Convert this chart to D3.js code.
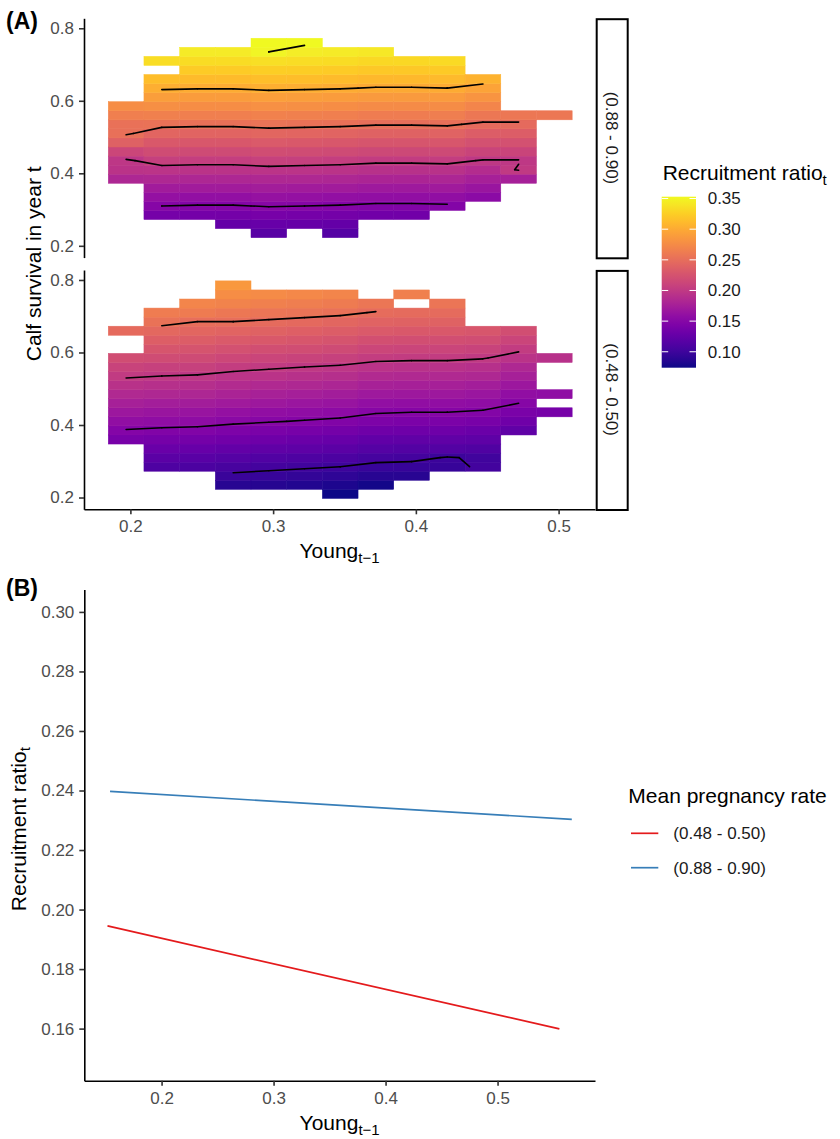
<!DOCTYPE html>
<html lang="en">
<head>
<meta charset="UTF-8">
<script src="https://cdn.jsdelivr.net/npm/d3@7"></script>
<style>
  body { margin: 0; background: #fff; }
  svg text { font-family: "Liberation Sans", Arial, sans-serif; }
</style>
</head>
<body>
<script>
const W = 840, H = 1139;

// bin centres of the heat map
const xBins = [0.197, 0.222, 0.247, 0.272, 0.297, 0.322, 0.347, 0.372, 0.397, 0.422, 0.447, 0.472, 0.497];
const yBins = [0.21, 0.235, 0.26, 0.285, 0.31, 0.335, 0.36, 0.385, 0.41, 0.435, 0.46, 0.485,
               0.51, 0.535, 0.56, 0.585, 0.61, 0.635, 0.66, 0.685, 0.71, 0.735, 0.76, 0.785];
const facetLabels = ["(0.88 - 0.90)", "(0.48 - 0.50)"];

// occupied survival range of each Young column, per facet
const lowHigh = [0.385, 0.285, 0.285, 0.26, 0.235, 0.26, 0.235, 0.285, 0.285, 0.31, 0.335, 0.385, 0.56];
const highHigh = [0.585, 0.66, 0.735, 0.735, 0.76, 0.76, 0.735, 0.735, 0.71, 0.71, 0.66, 0.56, 0.56];
const extraHigh = [[0.222, 0.71]];
const lowLow = [0.36, 0.285, 0.285, 0.235, 0.235, 0.235, 0.21, 0.235, 0.26, 0.285, 0.285, 0.385, 0.435];
const highLow = [0.585, 0.71, 0.735, 0.785, 0.76, 0.76, 0.76, 0.735, 0.71, 0.735, 0.66, 0.66, 0.435];
const extraLow = [[0.197, 0.66], [0.397, 0.76], [0.497, 0.485], [0.497, 0.585]];

// recruitment ratio by survival row, plus a small shift per Young column
const rowsHigh = [null, 0.115, 0.126, 0.137, 0.149, 0.160, 0.171, 0.182, 0.194, 0.205, 0.217, 0.229,
                  0.241, 0.253, 0.265, 0.277, 0.289, 0.301, 0.312, 0.323, 0.334, 0.344, 0.351, null];
const colShiftHigh = [0, 0.001, 0, 0, 0.002, 0.001, 0, -0.002, -0.002, -0.001, -0.006, -0.006, -0.006];
const rowsLow = [0.076, 0.083, 0.093, 0.102, 0.111, 0.121, 0.130, 0.139, 0.149, 0.157, 0.166, 0.175,
                 0.183, 0.192, 0.200, 0.210, 0.219, 0.228, 0.237, 0.246, 0.255, 0.264, 0.273, 0.282];
const colShiftLow = [0.010, 0.008, 0.007, 0.004, 0.002, 0, -0.002, -0.006, -0.007, -0.007, -0.009, -0.016, -0.018];
// single cells that stand out from the row + column pattern: [facet, young, survival, change]
const cellTweaks = [
    [0, 0.197, 0.435, -0.007], [0, 0.197, 0.46, -0.004], [0, 0.197, 0.485, 0.0095], [0, 0.197, 0.51, 0.011],
    [0, 0.472, 0.41, 0.0135], [0, 0.297, 0.735, 0.004],
    [1, 0.422, 0.31, -0.005], [1, 0.447, 0.285, 0.010], [1, 0.247, 0.685, -0.003]
];

const contourLevels = [0.10, 0.15, 0.20, 0.25, 0.30, 0.35];
const legendTicks = [0.10, 0.15, 0.20, 0.25, 0.30, 0.35];

// panel B: predicted recruitment
const bGroups = ["(0.48 - 0.50)", "(0.88 - 0.90)"];
const bColors = ["#e41a1c", "#377eb8"];
const bYoung = [[0.1517, 0.5552], [0.154, 0.5663]];
const bRecruit = [[0.1945, 0.1599], [0.2397, 0.2303]];

const svg = d3.select("body").append("svg")
    .attr("width", W).attr("height", H)
    .attr("viewBox", `0 0 ${W} ${H}`);

const near = (a, b) => Math.abs(a - b) < 1e-6;

function makeGrid(f, low, high, extra, rows, shift) {
    const grid = xBins.map(() => yBins.map(() => null));
    const put = (i, y) => {
        const j = yBins.findIndex(v => near(v, y));
        grid[i][j] = rows[j] + shift[i];
    };
    xBins.forEach((x, i) => {
        yBins.forEach(y => { if (y >= low[i] - 1e-6 && y <= high[i] + 1e-6) put(i, y); });
    });
    extra.forEach(([x, y]) => put(xBins.findIndex(v => near(v, x)), y));
    cellTweaks.filter(t => t[0] === f).forEach(([, x, y, dv]) => {
        const i = xBins.findIndex(v => near(v, x)), j = yBins.findIndex(v => near(v, y));
        if (grid[i][j] != null) grid[i][j] += dv;
    });
    return grid;
}

const panels = [
    { label: facetLabels[0], grid: makeGrid(0, lowHigh, highHigh, extraHigh, rowsHigh, colShiftHigh), top: 18.3, bottom: 257.6 },
    { label: facetLabels[1], grid: makeGrid(1, lowLow, highLow, extraLow, rowsLow, colShiftLow), top: 270, bottom: 509.3 }
];

const allVals = panels.flatMap(p => p.grid.flat().filter(v => v != null));
const fill = d3.scaleSequential(d3.interpolatePlasma).domain(d3.extent(allVals));

const aLeft = 84, aRight = 595;
const xA = d3.scaleLinear().domain([0.1675, 0.5255]).range([aLeft, aRight]);

function isoSegments(grid, level) {
    const segs = [];
    for (let i = 0; i < xBins.length - 1; i++) {
        for (let j = 0; j < yBins.length - 1; j++) {
            const a = grid[i][j], b = grid[i + 1][j], c = grid[i + 1][j + 1], d = grid[i][j + 1];
            if (a == null || b == null || c == null || d == null) continue;
            const x0 = xBins[i], x1 = xBins[i + 1], y0 = yBins[j], y1 = yBins[j + 1];
            const pts = [];
            const cross = (va, vb, pa, pb) => {
                if ((va < level) !== (vb < level)) {
                    const t = (level - va) / (vb - va);
                    pts.push([pa[0] + t * (pb[0] - pa[0]), pa[1] + t * (pb[1] - pa[1])]);
                }
            };
            cross(a, b, [x0, y0], [x1, y0]);
            cross(b, c, [x1, y0], [x1, y1]);
            cross(d, c, [x0, y1], [x1, y1]);
            cross(a, d, [x0, y0], [x0, y1]);
            if (pts.length === 2) segs.push(pts);
            else if (pts.length === 4) { segs.push([pts[0], pts[3]]); segs.push([pts[1], pts[2]]); }
        }
    }
    return segs;
}

function styleAxis(g) {
    g.select(".domain").attr("stroke", "#000").attr("stroke-width", 1.6);
    g.selectAll(".tick line").attr("stroke", "#333").attr("stroke-width", 1.6);
    g.selectAll(".tick text").attr("fill", "#4d4d4d").style("font-size", "17px");
}

// ---- panel A facets
panels.forEach((p, k) => {
    const yA = d3.scaleLinear().domain([0.1675, 0.8275]).range([p.bottom, p.top]);
    const g = svg.append("g");
    const cells = [];
    p.grid.forEach((col, i) => col.forEach((v, j) => { if (v != null) cells.push({ x: xBins[i], y: yBins[j], v }); }));

    g.selectAll("rect.cell").data(cells).enter().append("rect")
        .attr("class", "cell")
        .attr("x", d => xA(d.x - 0.0125))
        .attr("width", d => xA(d.x + 0.0125) - xA(d.x - 0.0125))
        .attr("y", d => yA(d.y + 0.0125))
        .attr("height", d => yA(d.y - 0.0125) - yA(d.y + 0.0125))
        .attr("fill", d => fill(d.v))
        .attr("stroke", d => fill(d.v))
        .attr("stroke-width", 0.5);

    const line = d3.line().x(d => xA(d[0])).y(d => yA(d[1]));
    contourLevels.forEach(L => {
        g.selectAll(null).data(isoSegments(p.grid, L)).enter().append("path")
            .attr("d", line)
            .attr("fill", "none")
            .attr("stroke", "#000")
            .attr("stroke-width", 1.6)
            .attr("stroke-linecap", "round");
    });

    g.append("g").attr("transform", `translate(${aLeft},0)`)
        .call(d3.axisLeft(yA).tickValues([0.2, 0.4, 0.6, 0.8]).tickFormat(d3.format(".1f"))
            .tickSize(5).tickSizeOuter(0).tickPadding(5))
        .call(styleAxis);

    // strip
    g.append("rect")
        .attr("x", 596.7).attr("y", p.top + 0.9)
        .attr("width", 31).attr("height", p.bottom - p.top - 0.2)
        .attr("fill", "#fff").attr("stroke", "#000").attr("stroke-width", 2);
    g.append("text")
        .attr("transform", `translate(612.2,${(p.top + p.bottom) / 2}) rotate(90)`)
        .attr("text-anchor", "middle").attr("dy", "0.35em")
        .attr("fill", "#1a1a1a").style("font-size", "17px")
        .text(p.label);

    if (k === 1) {
        g.append("g").attr("transform", `translate(0,${p.bottom})`)
            .call(d3.axisBottom(xA).tickValues([0.2, 0.3, 0.4, 0.5]).tickFormat(d3.format(".1f"))
                .tickSize(5).tickSizeOuter(0).tickPadding(6))
            .call(styleAxis);
    }
});

function subTitle(sel, main, sub) {
    sel.append("tspan").text(main);
    sel.append("tspan").attr("dy", "0.3em").style("font-size", "15px").text(sub);
}

svg.append("text").attr("x", 6).attr("y", 29)
    .style("font-size", "23px").style("font-weight", "bold").text("(A)");
svg.append("text")
    .attr("transform", `translate(40.5,${(18.3 + 509.3) / 2}) rotate(-90)`)
    .attr("text-anchor", "middle").style("font-size", "21px").text("Calf survival in year t");
svg.append("text").attr("x", (aLeft + aRight) / 2).attr("y", 558)
    .attr("text-anchor", "middle").style("font-size", "21px")
    .call(subTitle, "Young", "t\u22121");

// colour bar legend
const barX = 661.7, barW = 34.3, barTop = 196.7, barBot = 367.7;
const grad = svg.append("defs").append("linearGradient").attr("id", "plasmaBar")
    .attr("x1", 0).attr("y1", 1).attr("x2", 0).attr("y2", 0);
d3.range(0, 1.0001, 0.05).forEach(t => {
    grad.append("stop").attr("offset", t).attr("stop-color", d3.interpolatePlasma(t));
});
svg.append("text").attr("x", 662.7).attr("y", 180).style("font-size", "21px")
    .call(subTitle, "Recruitment ratio", "t");
svg.append("rect").attr("x", barX).attr("y", barTop).attr("width", barW).attr("height", barBot - barTop)
    .attr("fill", "url(#plasmaBar)");
const legY = d3.scaleLinear().domain(fill.domain()).range([barBot, barTop]);
legendTicks.forEach(v => {
    const y = legY(v);
    svg.append("line").attr("x1", barX).attr("x2", barX + 6.5).attr("y1", y).attr("y2", y)
        .attr("stroke", "#fff").attr("stroke-width", 1);
    svg.append("line").attr("x1", barX + barW - 6.5).attr("x2", barX + barW).attr("y1", y).attr("y2", y)
        .attr("stroke", "#fff").attr("stroke-width", 1);
    svg.append("text").attr("x", 707.7).attr("y", y).attr("dy", "0.35em")
        .attr("fill", "#1a1a1a").style("font-size", "17px").text(v.toFixed(2));
});

// ---- panel B
const bLeft = 84.3, bRight = 595, bTop = 589.6, bBottom = 1080.7;
const xB = d3.scaleLinear().domain([0.131, 0.587]).range([bLeft, bRight]);
const yB = d3.scaleLinear().domain([0.1425, 0.3075]).range([bBottom, bTop]);

const lineB = d3.line().x(d => xB(d[0])).y(d => yB(d[1]));
bGroups.forEach((grp, i) => {
    svg.append("path")
        .datum(bYoung[i].map((x, n) => [x, bRecruit[i][n]]))
        .attr("d", lineB).attr("fill", "none")
        .attr("stroke", bColors[i]).attr("stroke-width", 1.7);
});

svg.append("g").attr("transform", `translate(${bLeft},0)`)
    .call(d3.axisLeft(yB).tickValues([0.16, 0.18, 0.20, 0.22, 0.24, 0.26, 0.28, 0.30])
        .tickFormat(d3.format(".2f")).tickSize(5).tickSizeOuter(0).tickPadding(5))
    .call(styleAxis);
svg.append("g").attr("transform", `translate(0,${bBottom})`)
    .call(d3.axisBottom(xB).tickValues([0.2, 0.3, 0.4, 0.5]).tickFormat(d3.format(".1f"))
        .tickSize(5).tickSizeOuter(0).tickPadding(6))
    .call(styleAxis);

svg.append("text").attr("x", 6).attr("y", 596)
    .style("font-size", "23px").style("font-weight", "bold").text("(B)");
svg.append("text")
    .attr("transform", `translate(25.5,${(bTop + bBottom) / 2 - 6}) rotate(-90)`)
    .attr("text-anchor", "middle").style("font-size", "21px")
    .call(subTitle, "Recruitment ratio", "t");
svg.append("text").attr("x", (bLeft + bRight) / 2).attr("y", 1130)
    .attr("text-anchor", "middle").style("font-size", "21px")
    .call(subTitle, "Young", "t\u22121");

// line legend
svg.append("text").attr("x", 628.3).attr("y", 803).style("font-size", "21px").text("Mean pregnancy rate");
const keyY = [833.3, 867.7];
bGroups.forEach((grp, i) => {
    svg.append("line").attr("x1", 631).attr("x2", 658.3).attr("y1", keyY[i]).attr("y2", keyY[i])
        .attr("stroke", bColors[i]).attr("stroke-width", 1.7);
    svg.append("text").attr("x", 673.3).attr("y", keyY[i]).attr("dy", "0.35em")
        .attr("fill", "#1a1a1a").style("font-size", "17px").text(grp);
});
</script>
</body>
</html>
